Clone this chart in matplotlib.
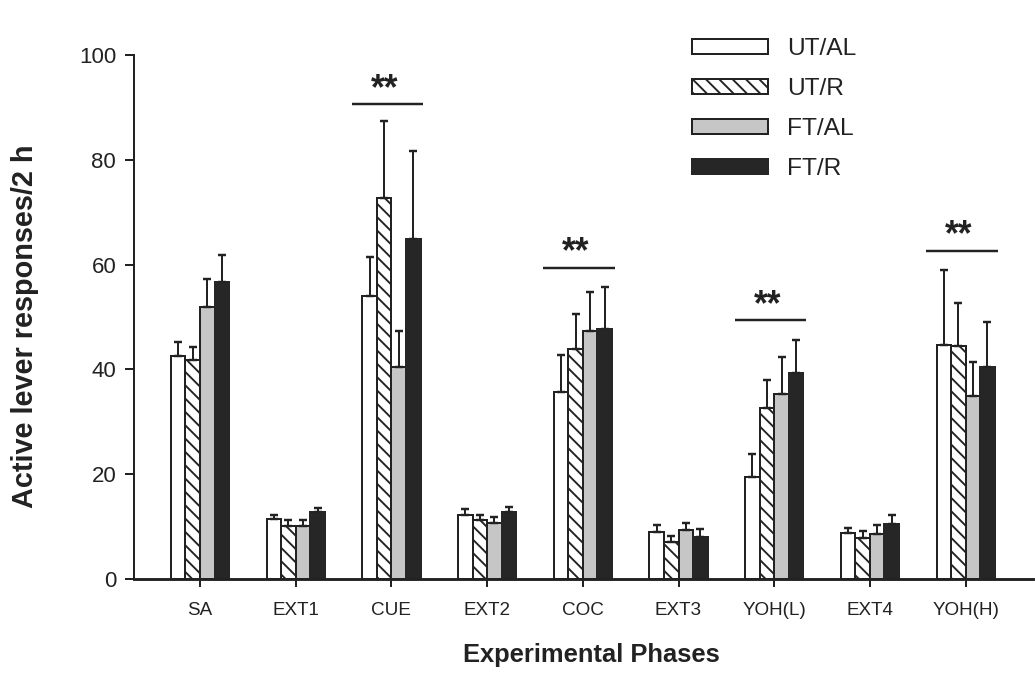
import matplotlib
matplotlib.use("Agg")
import matplotlib.pyplot as plt
import numpy as np

plt.rcParams['font.family'] = ['Liberation Sans', 'DejaVu Sans']
plt.rcParams['hatch.linewidth'] = 1.7
plt.rcParams['hatch.color'] = '#222222'

categories = ['SA', 'EXT1', 'CUE', 'EXT2', 'COC', 'EXT3', 'YOH(L)', 'EXT4', 'YOH(H)']
series_names = ['UT/AL', 'UT/R', 'FT/AL', 'FT/R']

ut_al = [42.6, 11.4, 54.0, 12.2, 35.7, 9.0, 19.4, 8.7, 44.7]
ut_al_err = [2.7, 0.8, 7.4, 1.1, 7.0, 1.3, 4.5, 1.1, 14.2]
ut_r = [41.8, 10.1, 72.8, 11.3, 43.8, 7.0, 32.7, 7.8, 44.4]
ut_r_err = [2.4, 1.1, 14.6, 0.9, 6.7, 1.3, 5.2, 1.3, 8.3]
ft_al = [51.9, 10.2, 40.4, 10.7, 47.3, 9.3, 35.3, 8.5, 34.9]
ft_al_err = [5.3, 1.0, 6.9, 1.1, 7.5, 1.3, 7.0, 1.8, 6.5]
ft_r = [56.6, 12.8, 64.9, 12.8, 47.7, 8.1, 39.4, 10.5, 40.4]
ft_r_err = [5.2, 0.7, 16.7, 0.9, 8.1, 1.5, 6.2, 1.8, 8.7]

sig_categories = ['CUE', 'COC', 'YOH(L)', 'YOH(H)']
sig_levels = [90.6, 59.4, 49.4, 62.6]
sig_label = '**'

y_ticks = [0, 20, 40, 60, 80, 100]

values = [ut_al, ut_r, ft_al, ft_r]
errors = [ut_al_err, ut_r_err, ft_al_err, ft_r_err]
faces = ['white', 'white', '#c6c6c6', '#262626']
hatches = [None, '\\\\', None, None]
edge = '#222222'

dpi = 80
fig = plt.figure(figsize=(1035 / dpi, 684 / dpi), dpi=dpi)
ax = fig.add_axes([134 / 1035, 105 / 684, (1033 - 134) / 1035, (579 - 55) / 684])

x = np.arange(len(categories))
bw = 0.152
for i in range(4):
    pos = x + (i - 1.5) * bw
    ax.bar(pos, values[i], width=bw, color=faces[i], edgecolor=edge if i < 3 else faces[i],
           linewidth=1.8, hatch=hatches[i], label=series_names[i], zorder=2)
    ax.errorbar(pos, values[i], yerr=[np.zeros(len(categories)), errors[i]], fmt='none',
                ecolor=edge, elinewidth=1.8, capsize=4, capthick=2.2, zorder=3)

for cat, lvl in zip(sig_categories, sig_levels):
    c = categories.index(cat) - 0.04
    ax.plot([c - 0.375, c + 0.375], [lvl, lvl], color=edge, lw=2.2, solid_capstyle='butt',
            zorder=3, clip_on=False)
    ax.text(c - 0.03, lvl - 0.5, sig_label, ha='center', va='bottom', fontsize=32,
            fontweight='bold', color=edge)

ax.set_xlim(-0.690, 8.704)
ax.set_ylim(0, 100)
ax.set_yticks(y_ticks)
ax.set_yticklabels([str(v) for v in y_ticks], fontsize=20, color='#222222')
ax.set_xticks(x)
ax.set_xticklabels(categories, fontsize=17, color='#222222')
ax.tick_params(axis='y', direction='out', length=8, width=1.8, color=edge, pad=8)
ax.tick_params(axis='x', direction='out', length=7, width=1.8, color=edge, pad=14)

for s in ['top', 'right']:
    ax.spines[s].set_visible(False)
ax.spines['left'].set_linewidth(1.8)
ax.spines['left'].set_color(edge)
ax.spines['bottom'].set_linewidth(2.6)
ax.spines['bottom'].set_color(edge)

ax.set_ylabel('Active lever responses/2 h', fontsize=26, fontweight='bold', color='#222222')
ax.yaxis.set_label_coords(-0.106, 0.483)
ax.set_xlabel('Experimental Phases', fontsize=23, fontweight='bold', color='#222222')
ax.xaxis.set_label_coords(0.509, -0.122)

leg = fig.legend(loc='upper left', bbox_to_anchor=(692 / 1035, 1 - 38 / 684), frameon=False,
                 fontsize=22, handlelength=3.1, handleheight=0.6, labelspacing=0.74,
                 handletextpad=0.78, borderpad=0, borderaxespad=0)
for t in leg.get_texts():
    t.set_color('#222222')

fig.savefig('out.png', dpi=dpi)
